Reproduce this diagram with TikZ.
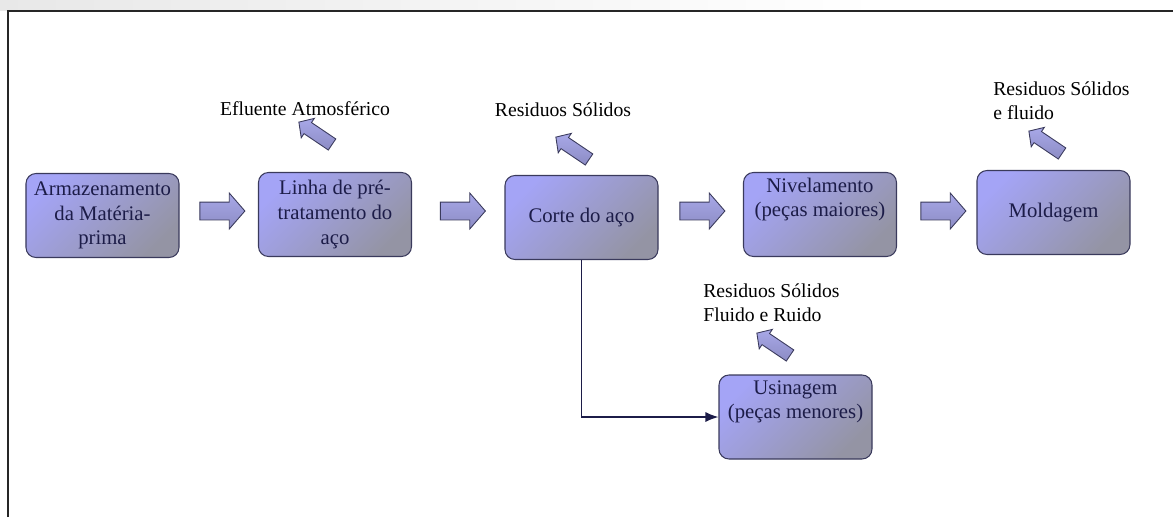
\documentclass[tikz,border=0pt]{standalone}
\usepackage{fontspec}
\setmainfont{Liberation Serif}
\usepackage{tikz}
\usetikzlibrary{arrows.meta,shapes.arrows}

\definecolor{boxlight}{RGB}{164,164,246}
\definecolor{boxdark}{RGB}{148,148,164}
\definecolor{boxline}{RGB}{58,58,92}
\definecolor{boxtext}{RGB}{28,28,72}
\definecolor{setafill}{RGB}{168,168,232}
\definecolor{setadark}{RGB}{140,140,196}

\tikzset{
  etapa/.style={draw=boxline, line width=0.6pt, rounded corners=2mm,
    top color=boxlight, bottom color=boxdark, shading angle=45,
    minimum width=30.6mm, minimum height=16.8mm, align=center,
    text=boxtext, font=\fontsize{11.8}{14}\selectfont, inner sep=1pt},
  seta/.style={single arrow, draw=boxline, line width=0.5pt,
    top color=setafill, bottom color=setadark, inner sep=0pt,
    text height=1.7mm, text depth=1.7mm, single arrow head extend=1.8mm,
    single arrow tip angle=98, minimum height=9mm},
  saida/.style={single arrow, draw=boxline, line width=0.5pt,
    top color=setafill, bottom color=setadark, inner sep=0pt,
    text height=1.25mm, text depth=1.25mm, single arrow head extend=1mm,
    single arrow tip angle=95, minimum height=8mm, rotate=146},
  residuo/.style={font=\fontsize{11.2}{13.5}\selectfont, inner sep=0pt}
}

\begin{document}
\begin{tikzpicture}[x=0.2mm, y=-0.2mm]
	\useasboundingbox (0,0) rectangle (1173,517);
	\shade[left color=gray!18, right color=white] (0,0) rectangle (880,10);
	\draw[gray!30!black, line width=1pt] (8,517) -- (8,11) -- (1173,11);

	\node[etapa] (armaz) at (102.5,215.5) {Armazenamento\\da Matéria-\\prima};
	\node[etapa] (linha) at (335,214.5) {Linha de pré-\\tratamento do\\aço};
	\node[etapa] (corte) at (581.5,217.5) {Corte do aço};
	\node[etapa] (nivel) at (820,214.5) {Nivelamento\\(peças maiores)\\[2mm]};
	\node[etapa] (molda) at (1053.5,212.5) {Moldagem};
	\node[etapa] (usina) at (795.5,417) {Usinagem\\(peças menores)\\[2mm]};

	\node[seta] (seta1) at (218.5,211) {};
	\node[seta] (seta2) at (459,211) {};
	\node[seta] (seta3) at (698.5,211) {};
	\node[seta] (seta4) at (939.5,211) {};

	\node[saida] (sLinha) at (318,135) {};
	\node[saida] (sCorte) at (575,150) {};
	\node[saida] (sMolda) at (1048,144) {};
	\node[saida] (sUsina) at (776,346) {};

	\node[residuo] (rLinha) at (305,109) {Efluente Atmosférico};
	\node[residuo] (rCorte) at (563,110) {Residuos Sólidos};
	\node[residuo, anchor=west, align=left] (rMolda) at (993,101) {Residuos Sólidos\\e fluido};
	\node[residuo, anchor=west, align=left] (rUsina) at (703,303) {Residuos Sólidos\\Fluido e Ruido};

	\draw[boxtext, line width=0.8pt, -{Latex[length=2.6mm, width=2mm]}] (corte.south) |- (usina.west);
\end{tikzpicture}
\end{document}
